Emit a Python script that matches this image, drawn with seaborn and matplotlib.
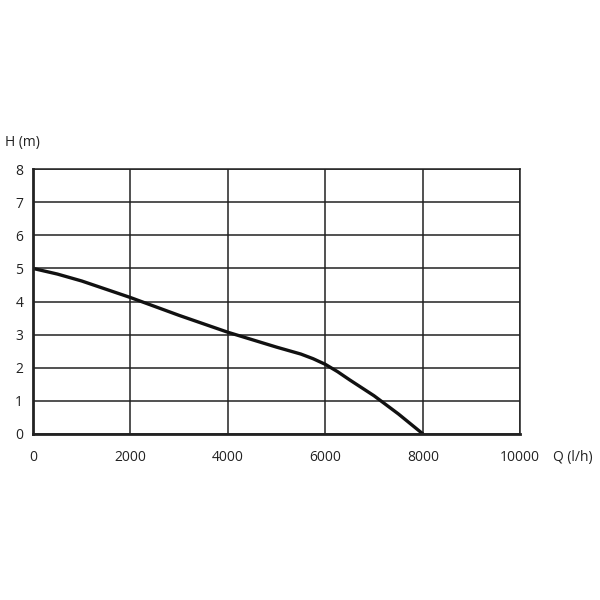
import matplotlib
matplotlib.use('Agg')
import matplotlib.pyplot as plt
import seaborn as sns
import pandas as pd

# pump curve
flow = [0, 500, 1000, 2000, 3000, 4000, 5000, 5500, 5750, 6000, 6250, 6500, 7000, 7500, 8000]
head = [5.0, 4.83, 4.62, 4.12, 3.58, 3.07, 2.62, 2.41, 2.27, 2.1, 1.88, 1.63, 1.15, 0.6, 0.0]
x_ticks = [0, 2000, 4000, 6000, 8000, 10000]
y_ticks = [0, 1, 2, 3, 4, 5, 6, 7, 8]

sns.set_style('white')
plt.rcParams['font.family'] = ['Open Sans', 'DejaVu Sans']

df = pd.DataFrame({'Q': flow, 'H': head})

fig = plt.figure(figsize=(6, 6), dpi=100)
ax = fig.add_axes([0.055, 0.277, 0.812, 0.441])
sns.lineplot(data=df, x='Q', y='H', ax=ax, color='#111111', linewidth=2.4)

ax.set_xlim(0, 10000)
ax.set_ylim(0, 8)
ax.set_xticks(x_ticks)
ax.set_yticks(y_ticks)
ax.grid(True, color='#222222', linewidth=1.1)
ax.set_axisbelow(True)
for side, spine in ax.spines.items():
    spine.set_color('#222222')
    spine.set_linewidth(1.1)
ax.spines['left'].set_linewidth(2)
ax.spines['bottom'].set_linewidth(2)
ax.tick_params(axis='both', length=0, labelsize=10, colors='#222222')
ax.tick_params(axis='y', pad=7)
ax.tick_params(axis='x', pad=12)
ax.set_xlabel('')
ax.set_ylabel('')

fig.text(0.008, 0.762, 'H (m)', fontsize=10, color='#222222', va='center')
fig.text(0.922, 0.238, 'Q (l/h)', fontsize=10, color='#222222', va='center')

fig.savefig('out.png', dpi=100)
